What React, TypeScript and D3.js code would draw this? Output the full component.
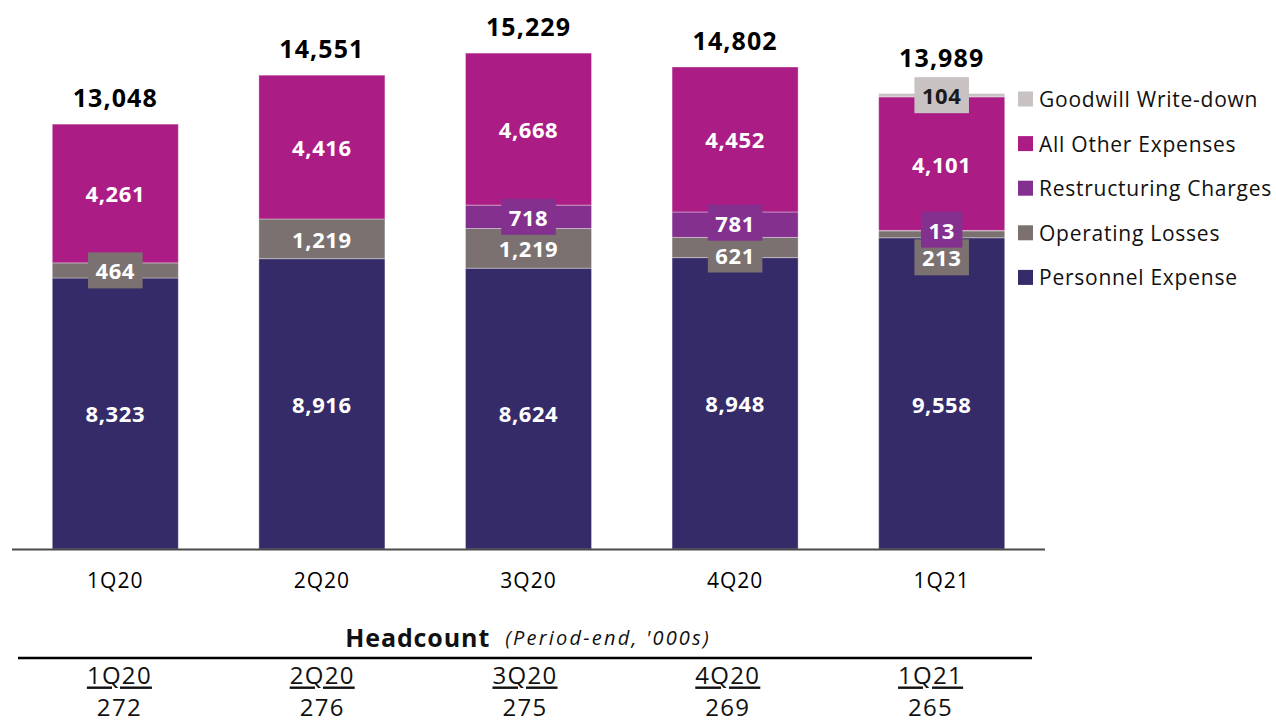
import React, { useEffect, useRef } from "react";
import * as d3 from "d3";

// Noninterest expense by quarter ($ millions), stacked bottom to top
const quarters = ["1Q20", "2Q20", "3Q20", "4Q20", "1Q21"];
const personnelExpense = [8323, 8916, 8624, 8948, 9558];
const operatingLosses = [464, 1219, 1219, 621, 213];
const restructuringCharges = [0, 0, 718, 781, 13];
const allOtherExpenses = [4261, 4416, 4668, 4452, 4101];
const goodwillWriteDown = [0, 0, 0, 0, 104];
const totals = [13048, 14551, 15229, 14802, 13989];

// Period-end headcount ('000s)
const headcount = [272, 276, 275, 269, 265];

const seriesNames = [
  "Personnel Expense",
  "Operating Losses",
  "Restructuring Charges",
  "All Other Expenses",
  "Goodwill Write-down",
];
const seriesValues = [
  personnelExpense,
  operatingLosses,
  restructuringCharges,
  allOtherExpenses,
  goodwillWriteDown,
];
const seriesColors = ["#352b69", "#7a7170", "#84308f", "#ab1d84", "#c8c2c2"];
const seriesTextColors = ["#ffffff", "#ffffff", "#ffffff", "#ffffff", "#1a1a1a"];

// small vertical nudges (px) so crowded labels don't collide
const labelNudge: Record<string, number> = {
  "Personnel Expense|3Q20": 4,
  "Personnel Expense|1Q21": 11,
  "Operating Losses|4Q20": 7,
  "Restructuring Charges|4Q20": -2,
  "Operating Losses|1Q21": 23,
  "Restructuring Charges|1Q21": -1,
};
const totalNudge: Record<string, number> = { "1Q21": -9 };

const FONT = "'Open Sans', 'Noto Sans', sans-serif";

export default function App() {
  const ref = useRef<SVGSVGElement | null>(null);

  useEffect(() => {
    const svg = d3.select(ref.current);
    svg.selectAll("*").remove();

    const baseY = 549;
    const x = d3.scaleBand<string>().domain(quarters).range([12, 1045]).paddingInner(0.39).paddingOuter(0.195);
    const y = d3.scaleLinear().domain([0, 16000]).range([baseY, 28]);

    const rows = quarters.map((q, i) => {
      const r: any = { q };
      seriesNames.forEach((s, k) => (r[s] = seriesValues[k][i]));
      return r;
    });
    const stacked = d3.stack<any>().keys(seriesNames)(rows);

    const g = svg.append("g");

    // bars
    stacked.forEach((layer, k) => {
      g.append("g")
        .selectAll("rect")
        .data(layer.filter((d) => d[1] - d[0] > 0))
        .join("rect")
        .attr("x", (d) => x(d.data.q)!)
        .attr("width", x.bandwidth())
        .attr("y", (d) => y(d[1]))
        .attr("height", (d) => y(d[0]) - y(d[1]))
        .attr("fill", seriesColors[k])
        .attr("stroke", "#ffffff")
        .attr("stroke-opacity", 0.35)
        .attr("stroke-width", 1);
    });

    // axis baseline
    g.append("line")
      .attr("x1", 12)
      .attr("x2", 1045)
      .attr("y1", baseY + 0.5)
      .attr("y2", baseY + 0.5)
      .attr("stroke", "#4a4a4a")
      .attr("stroke-width", 2);

    // segment labels, boxed when the segment is thinner than the label
    const boxH = 36;
    stacked.forEach((layer, k) => {
      layer.forEach((d) => {
        const v = d[1] - d[0];
        if (v <= 0) return;
        const key = `${seriesNames[k]}|${d.data.q}`;
        const cx = x(d.data.q)! + x.bandwidth() / 2;
        const segH = y(d[0]) - y(d[1]);
        const cy = (y(d[0]) + y(d[1])) / 2 + (labelNudge[key] || 0);
        const lg = g.append("g");
        const box = lg.append("rect");
        const t = lg
          .append("text")
          .attr("x", cx)
          .attr("y", cy)
          .attr("text-anchor", "middle")
          .attr("dominant-baseline", "central")
          .attr("font-family", FONT)
          .attr("font-weight", 700)
          .attr("font-size", 22)
          .attr("letter-spacing", 0.6)
          .attr("fill", seriesTextColors[k])
          .text(d3.format(",")(v));
        if (segH < 34) {
          const w = (t.node() as SVGTextElement).getComputedTextLength() + 15;
          box
            .attr("x", cx - w / 2)
            .attr("y", cy - boxH / 2)
            .attr("width", w)
            .attr("height", boxH)
            .attr("fill", seriesColors[k]);
        } else {
          box.remove();
        }
      });
    });

    // totals above bars
    g.append("g")
      .selectAll("text")
      .data(quarters)
      .join("text")
      .attr("x", (q) => x(q)! + x.bandwidth() / 2)
      .attr("y", (q, i) => y(totals[i]) - 27 + (totalNudge[q] || 0))
      .attr("text-anchor", "middle")
      .attr("dominant-baseline", "central")
      .attr("font-family", FONT)
      .attr("font-weight", 700)
      .attr("font-size", 25)
      .attr("letter-spacing", 1.1)
      .attr("fill", "#000")
      .text((_, i) => d3.format(",")(totals[i]));

    // category labels
    g.append("g")
      .selectAll("text")
      .data(quarters)
      .join("text")
      .attr("x", (q) => x(q)! + x.bandwidth() / 2)
      .attr("y", 580)
      .attr("text-anchor", "middle")
      .attr("dominant-baseline", "central")
      .attr("font-family", FONT)
      .attr("font-size", 21)
      .attr("letter-spacing", 1)
      .attr("fill", "#000")
      .text((q) => q);

    // legend (top entry is the top of the stack)
    const legend = g.append("g");
    const legendOrder = seriesNames.map((s, k) => ({ s, k })).reverse();
    legendOrder.forEach(({ s, k }, i) => {
      const cy = 99 + i * 44.6;
      legend
        .append("rect")
        .attr("x", 1018)
        .attr("y", cy - 7.5)
        .attr("width", 15)
        .attr("height", 15)
        .attr("fill", seriesColors[k]);
      legend
        .append("text")
        .attr("x", 1039)
        .attr("y", cy)
        .attr("dominant-baseline", "central")
        .attr("font-family", FONT)
        .attr("font-size", 21)
        .attr("letter-spacing", 0.75)
        .attr("fill", "#111")
        .text(s);
    });

    // headcount table
    const hx = d3.scaleBand<string>().domain(quarters).range([18, 1032]);
    const title = g
      .append("text")
      .attr("x", 528)
      .attr("y", 637)
      .attr("text-anchor", "middle")
      .attr("dominant-baseline", "central")
      .attr("font-family", FONT)
      .attr("fill", "#111");
    title
      .append("tspan")
      .attr("font-weight", 700)
      .attr("font-size", 25)
      .attr("letter-spacing", 0.9)
      .text("Headcount");
    title
      .append("tspan")
      .attr("font-size", 20)
      .attr("font-style", "italic")
      .attr("letter-spacing", 2.2)
      .attr("dx", 15)
      .text("(Period-end, '000s)");

    g.append("line")
      .attr("x1", 18)
      .attr("x2", 1032)
      .attr("y1", 658)
      .attr("y2", 658)
      .attr("stroke", "#000")
      .attr("stroke-width", 2.5);

    const cols = g.append("g").selectAll("g").data(quarters).join("g");
    cols
      .append("text")
      .attr("x", (q) => hx(q)! + hx.bandwidth() / 2)
      .attr("y", 674)
      .attr("text-anchor", "middle")
      .attr("dominant-baseline", "central")
      .attr("font-family", FONT)
      .attr("font-size", 24)
      .attr("letter-spacing", 1.3)
      .attr("text-decoration", "underline")
      .attr("fill", "#111")
      .text((q) => q);
    cols
      .append("text")
      .attr("x", (q) => hx(q)! + hx.bandwidth() / 2)
      .attr("y", 706)
      .attr("text-anchor", "middle")
      .attr("dominant-baseline", "central")
      .attr("font-family", FONT)
      .attr("font-size", 24)
      .attr("letter-spacing", 1.3)
      .attr("fill", "#111")
      .text((_, i) => String(headcount[i]));
  }, []);

  return (
    <svg
      ref={ref}
      width={1276}
      height={721}
      style={{ position: "absolute", left: 0, top: 0, background: "#fff" }}
    />
  );
}
